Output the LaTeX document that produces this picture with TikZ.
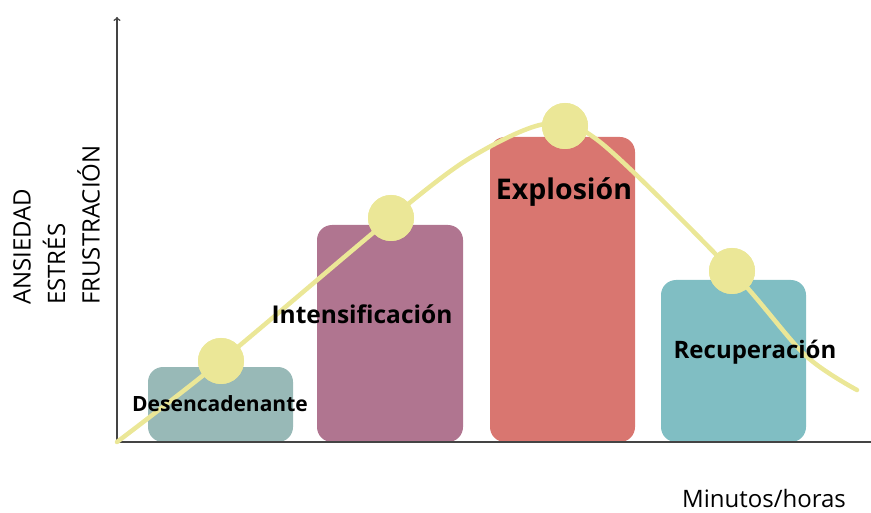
\documentclass[tikz,border=0pt]{standalone}
\usepackage{fontspec}
\setmainfont{Open Sans}
\usepackage{xcolor}
\definecolor{mygray}{RGB}{152,185,183}
\definecolor{mymauve}{RGB}{176,117,144}
\definecolor{myred}{RGB}{217,118,112}
\definecolor{myteal}{RGB}{128,190,195}
\definecolor{myyellow}{RGB}{235,231,151}
\definecolor{myaxis}{RGB}{68,68,68}

\begin{document}
\begin{tikzpicture}[x=1pt,y=-1pt,line cap=round]
	\tikzstyle{bar}=[rounded corners=15pt,draw=none];
	\tikzstyle{dot}=[circle,fill=myyellow,inner sep=0pt,minimum size=46pt];
	\tikzstyle{phase}=[inner sep=0pt,anchor=base,font=\bfseries\fontsize{24}{28}\selectfont];
	\useasboundingbox (0,0) rectangle (871,513);
	% bars
	\fill[bar,mygray]  (148,367) rectangle (293,442);
	\fill[bar,mymauve] (317,225) rectangle (463,442);
	\fill[bar,myred]   (490,137) rectangle (635,442);
	\fill[bar,myteal]  (661,280) rectangle (806,442);
	% axes
	\coordinate (o) at (117,442);
	\coordinate (ytop) at (117,17);
	\coordinate (xend) at (871,442);
	\draw[myaxis,line width=1.5pt,->] (o) -- (ytop);
	\draw[myaxis,line width=1.8pt] (o) -- (xend);
	% curve
	\node[dot] (d1) at (221,361) {};
	\node[dot] (d2) at (391,218) {};
	\node[dot] (d3) at (565,126) {};
	\node[dot] (d4) at (732,271) {};
	\coordinate (e) at (857,390);
	\draw[myyellow,line width=4.5pt] plot[smooth,tension=0.5] coordinates
		{(o) (d1.center) (d2.center) (470,158) (545,124) (600,142) (d4.center) (805,355) (e)};
	\foreach \n in {d1,d2,d3,d4}
		\fill[myyellow] (\n) circle (23pt);
	% labels
	\node[phase,font=\bfseries\fontsize{21}{24}\selectfont] (l1) at (220,411) {Desencadenante};
	\node[phase,font=\bfseries\fontsize{24.5}{28}\selectfont] (l2) at (362,324) {Intensificación};
	\node[phase,font=\bfseries\fontsize{28.5}{32}\selectfont] (l3) at (564,200) {Explosión};
	\node[phase] (l4) at (755,359) {Recuperación};
	\node[inner sep=0pt,anchor=south west,rotate=90,align=left,
		font=\fontsize{24}{34.5}\selectfont] (ylab) at (100,305) {ANSIEDAD\\ESTRÉS\\FRUSTRACIÓN};
	\node[inner sep=0pt,anchor=base,font=\fontsize{24}{28}\selectfont] (xlab) at (764,507) {Minutos/horas};
\end{tikzpicture}
\end{document}
